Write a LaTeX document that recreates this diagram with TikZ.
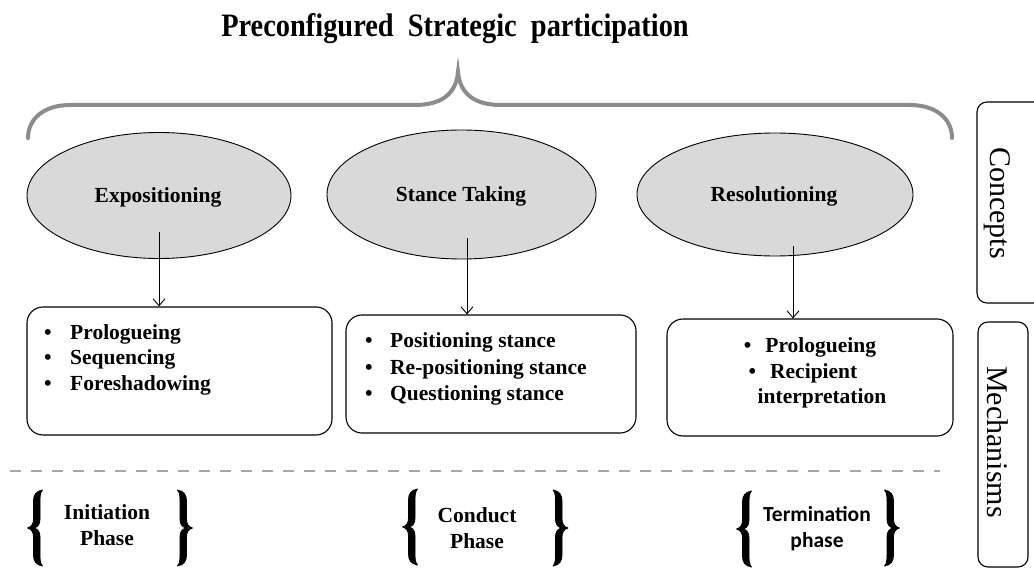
\documentclass[tikz,border=0pt]{standalone}
\usepackage{fontspec}
\setmainfont{Liberation Serif}
\newfontfamily\carlito{Carlito}
\usetikzlibrary{shapes.geometric,arrows.meta}
\definecolor{ellgray}{HTML}{D9D9D9}
\definecolor{bracegray}{HTML}{8C8C8C}
\definecolor{dashgray}{HTML}{A6A6A6}
\begin{document}
\begin{tikzpicture}[x=1pt,y=-1pt,
  ell/.style={ellipse, draw=black, line width=0.9pt, fill=ellgray, inner sep=0pt},
  etext/.style={font=\bfseries\fontsize{21.5}{24}\selectfont, anchor=base, inner sep=0pt},
  box/.style={draw=black, line width=1.1pt, rounded corners=16pt, inner sep=0pt},
  btext/.style={font=\bfseries\fontsize{21.5}{24}\selectfont, anchor=base west, inner sep=0pt},
  ctext/.style={font=\bfseries\fontsize{21.5}{24}\selectfont, anchor=base, inner sep=0pt},
  arr/.style={line width=0.9pt, -{Straight Barb[length=7pt,width=12pt,line width=0.9pt]}},
  topbrace/.style={draw=bracegray, line width=4pt, line cap=round},
  phaseline/.style={draw=dashgray, line width=2.5pt, dash pattern=on 11pt off 10pt},
  sidebox/.style={draw=black, line width=1.1pt, rounded corners=10pt, inner sep=0pt},
  sidetext/.style={font=\fontsize{30}{30}\selectfont, rotate=-90, inner sep=0pt},
  lbr/.pic={\filldraw[black, line width=0.8pt, line join=round]
    (7.5,-38) .. controls (1,-37) and (-1.5,-33) .. (-1.5,-27) -- (-1.5,-9)
    .. controls (-1.5,-4) and (-3.5,-1) .. (-7.5,0)
    .. controls (-3.5,1) and (-1.5,4) .. (-1.5,9) -- (-1.5,27)
    .. controls (-1.5,33) and (1,37) .. (7.5,38)
    .. controls (5.5,36) and (5,33) .. (5,27) -- (5,9)
    .. controls (5,4) and (3,1) .. (-1,0)
    .. controls (3,-1) and (5,-4) .. (5,-9) -- (5,-27)
    .. controls (5,-33) and (5.5,-36) .. (7.5,-38) -- cycle;}
]
\useasboundingbox (0,0) rectangle (1034,569);

% title
\node[font=\bfseries\fontsize{28.4}{30}\selectfont, anchor=base, inner sep=0pt] (title) at (455,37)
  {\scalebox{1}[1.15]{Preconfigured\ \ Strategic\ \ participation}};

% top brace
\draw[topbrace] (28,138) .. controls (28,118) and (45,105) .. (70,105) -- (415,105)
  .. controls (440,105) and (456,95) .. (458,72)
  .. controls (460,95) and (476,105) .. (501,105) -- (910,105)
  .. controls (935,105) and (952,118) .. (952,138);

% concept ellipses
\node[ell, minimum width=264pt, minimum height=126pt] (e1) at (159,195.5) {};
\node[ell, minimum width=269pt, minimum height=129pt] (e2) at (461.5,194.5) {};
\node[ell, minimum width=276pt, minimum height=123pt] (e3) at (775,194.5) {};
\node[etext] (t1) at (158,203) {Expositioning};
\node[etext] (t2) at (461,202) {Stance Taking};
\node[etext] (t3) at (774,202) {Resolutioning};

% mechanism boxes
\node[box, minimum width=305pt, minimum height=128pt] (b1) at (179.5,371) {};
\node[box, minimum width=290pt, minimum height=118pt] (b2) at (491,374) {};
\node[box, minimum width=286pt, minimum height=117pt] (b3) at (810,377.5) {};

\node[btext] (l11) at (44,340) {\makebox[26pt][l]{\textbullet}Prologueing};
\node[btext] (l12) at (44,365) {\makebox[26pt][l]{\textbullet}Sequencing};
\node[btext] (l13) at (44,391) {\makebox[26pt][l]{\textbullet}Foreshadowing};

\node[btext] (l21) at (365,348) {\makebox[25pt][l]{\textbullet}Positioning stance};
\node[btext] (l22) at (365,374) {\makebox[25pt][l]{\textbullet}Re-positioning stance};
\node[btext] (l23) at (365,400) {\makebox[25pt][l]{\textbullet}Questioning stance};

\node[ctext] (l31) at (810,353) {\textbullet\hspace{14pt}Prologueing};
\node[ctext] (l32) at (803,378) {\textbullet\hspace{14pt}Recipient};
\node[ctext] (l33) at (822,403) {interpretation};

% arrows
\coordinate (s1) at (159,232);
\coordinate (s2) at (467,238);
\coordinate (s3) at (793,246);
\draw[arr] (s1) -- (s1 |- b1.north);
\draw[arr] (s2) -- (s2 |- b2.north);
\draw[arr] (s3) -- (s3 |- b3.north);

% dashed separator
\coordinate (d1) at (10,471);
\coordinate (d2) at (940,471);
\draw[phaseline] (d1) -- (d2);

% phases
\pic at (35,528) {lbr};
\pic[xscale=-1] at (185,528) {lbr};
\node[ctext] (p1a) at (107,519) {Initiation};
\node[ctext] (p1b) at (107,545) {Phase};

\pic at (410,527) {lbr};
\pic[xscale=-1] at (560.5,528) {lbr};
\node[ctext] (p2a) at (477,522) {Conduct};
\node[ctext] (p2b) at (477,548) {Phase};

\pic at (744,529) {lbr};
\pic[xscale=-1] at (892,528) {lbr};
\node[ctext, font=\carlito\bfseries\fontsize{21.5}{24}\selectfont] (p3a) at (817,521) {Termination};
\node[ctext, font=\carlito\bfseries\fontsize{21.5}{24}\selectfont] (p3b) at (817,547) {phase};

% side boxes
\node[sidebox, minimum width=70pt, minimum height=201pt] (cb) at (1012,202.5) {};
\node[sidetext] (ct) at (997,203) {Concepts};
\node[sidebox, minimum width=50pt, minimum height=245pt] (mb) at (1003,444.5) {};
\node[sidetext] (mt) at (998,442) {Mechanisms};
\end{tikzpicture}
\end{document}
